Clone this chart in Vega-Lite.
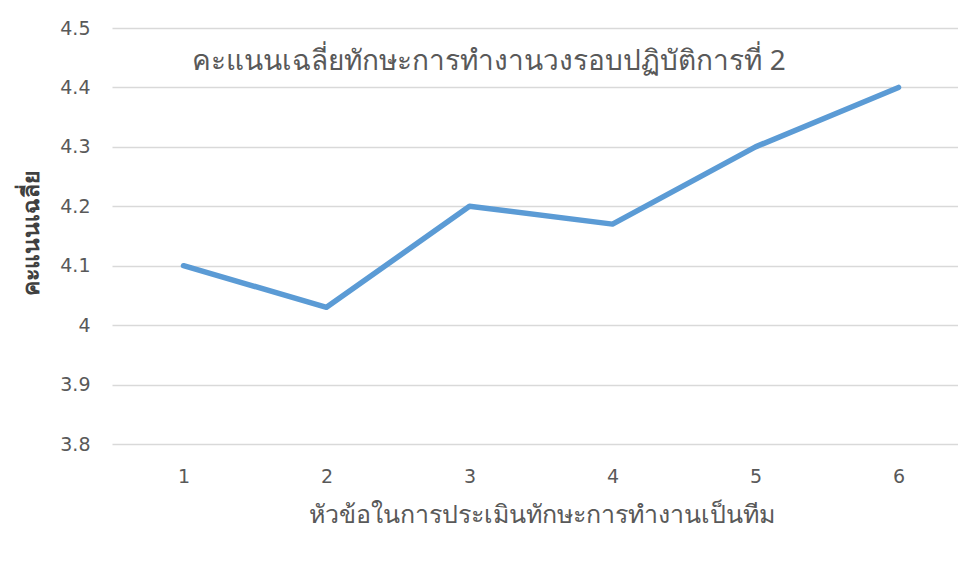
{
  "$schema": "https://vega.github.io/schema/vega-lite/v6.json",
  "width": 846,
  "height": 416,
  "autosize": {"type": "none"},
  "padding": {"left": 112, "top": 28, "right": 0, "bottom": 140},
  "background": "white",
  "config": {
    "view": {"stroke": null},
    "font": "DejaVu Sans"
  },
  "title": {
    "text": "คะแนนเฉลี่ยทักษะการทำงานวงรอบปฏิบัติการที่ 2",
    "anchor": "middle",
    "orient": "top",
    "baseline": "middle",
    "offset": -71,
    "dx": -46,
    "fontSize": 28,
    "fontWeight": "normal",
    "color": "#595959",
    "font": "Noto Sans"
  },
  "data": {
    "values": [
      {"topic": 1, "score": 4.1},
      {"topic": 2, "score": 4.03},
      {"topic": 3, "score": 4.2},
      {"topic": 4, "score": 4.17},
      {"topic": 5, "score": 4.3},
      {"topic": 6, "score": 4.4}
    ]
  },
  "mark": {"type": "line", "color": "#5B9BD5", "strokeWidth": 5.5, "strokeCap": "round", "strokeJoin": "round"},
  "encoding": {
    "x": {
      "field": "topic",
      "type": "quantitative",
      "scale": {"domain": [0.5, 6.416], "nice": false, "zero": false},
      "axis": {
        "values": [1, 2, 3, 4, 5, 6],
        "grid": false,
        "domain": false,
        "ticks": false,
        "labelPadding": 23,
        "labelFontSize": 19,
        "labelColor": "#595959",
        "labelFont": "DejaVu Sans",
        "title": "หัวข้อในการประเมินทักษะการทำงานเป็นทีม",
        "titleFontSize": 25,
        "titleFontWeight": "normal",
        "titleColor": "#595959",
        "titlePadding": 16,
        "titleFont": "Noto Sans",
        "titleX": 429
      }
    },
    "y": {
      "field": "score",
      "type": "quantitative",
      "scale": {"domain": [3.8, 4.5], "nice": false, "zero": false},
      "axis": {
        "values": [3.8, 3.9, 4.0, 4.1, 4.2, 4.3, 4.4, 4.5],
        "labelExpr": "datum.value == 4 ? '4' : format(datum.value, '.1f')",
        "grid": true,
        "gridColor": "#D9D9D9",
        "gridWidth": 1.5,
        "domain": false,
        "ticks": false,
        "labelPadding": 22,
        "labelFontSize": 19,
        "labelColor": "#595959",
        "labelFont": "DejaVu Sans",
        "title": "คะแนนเฉลี่ย",
        "titleFontSize": 23,
        "titleFontWeight": "bold",
        "titleColor": "#404040",
        "titleFont": "Noto Sans",
        "titleBaseline": "alphabetic",
        "titleX": -74,
        "titleY": 205,
        "titleAlign": "center"
      }
    }
  }
}
